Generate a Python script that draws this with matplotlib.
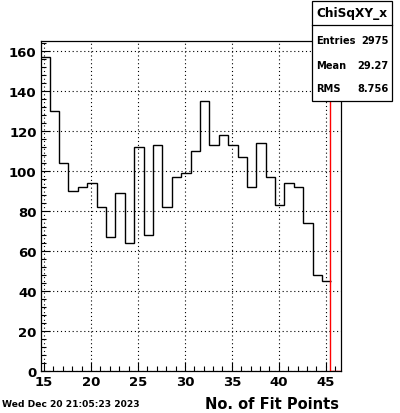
import numpy as np
import matplotlib
matplotlib.use("Agg")
import matplotlib.pyplot as plt
from matplotlib.ticker import MultipleLocator

# histogram contents, one bin per number of fit points
fit_points = np.arange(15, 46)
counts = [157, 130, 104, 90, 92, 94, 82, 67, 89, 64,
          112, 68, 113, 82, 97, 99, 110, 135, 113, 118,
          113, 107, 92, 114, 97, 83, 94, 92, 74, 48, 45]
bin_offset = -0.4
x_range = (14.65, 46.6)
cut_x = 45.5

hist_name = "ChiSqXY_x"
stats_labels = ["Entries", "Mean", "RMS"]
stats_values = ["2975", "29.27", "8.756"]
x_title = "No. of Fit Points"
date_text = "Wed Dec 20 21:05:23 2023"

fig = plt.figure(figsize=(4.0, 4.14), dpi=100)
ax = fig.add_axes([0.102, 0.1014, 0.75, 0.797])

edges = np.append(fit_points + bin_offset, fit_points[-1] + 1 + bin_offset)
ax.stairs(counts, edges, color="black", lw=1.0, baseline=None)
ax.plot([edges[0], edges[0]], [0, counts[0]], color="black", lw=1.0)

# red cut marker: vertical line and bottom edge up to the frame
ax.plot([cut_x, cut_x, x_range[1]], [200, 0, 0], color="red", lw=1.0,
        clip_on=True, zorder=5)

ax.set_xlim(*x_range)
ax.set_ylim(0, max(counts) * 1.05)

ax.xaxis.set_major_locator(MultipleLocator(5))
ax.xaxis.set_minor_locator(MultipleLocator(1))
ax.yaxis.set_major_locator(MultipleLocator(20))
ax.yaxis.set_minor_locator(MultipleLocator(4))
ax.tick_params(which="both", direction="in", top=False, right=False, width=0.8)
ax.tick_params(which="major", length=6.5, labelsize=9.5, pad=3)
ax.tick_params(which="minor", length=3.3)
for lab in ax.get_xticklabels() + ax.get_yticklabels():
    lab.set_fontweight("bold")

ax.grid(True, which="major", color="black", linestyle=(0, (1, 2.5)), lw=0.8)
for sp in ax.spines.values():
    sp.set_linewidth(0.9)

fig.text(0.848, 0.024, x_title, ha="right", va="center",
         fontsize=10.5, fontweight="bold")
fig.text(0.006, 0.022, date_text, ha="left", va="center",
         fontsize=6.6, fontweight="bold")

# stats box
bx0, bx1 = 312.3 / 400, 391.7 / 400
by1, by0 = 1 - 1.7 / 414, 1 - 101.7 / 414
sep = 1 - 26 / 414
box = plt.Rectangle((bx0, by0), bx1 - bx0, by1 - by0, transform=fig.transFigure,
                    facecolor="white", edgecolor="black", lw=0.9, zorder=10)
fig.add_artist(box)
fig.add_artist(plt.Line2D([bx0, bx1], [sep, sep], transform=fig.transFigure,
                          color="black", lw=0.9, zorder=11))
fig.text((bx0 + bx1) / 2, (sep + by1) / 2, hist_name, ha="center", va="center",
         fontsize=8.7, fontweight="bold", zorder=12)
rows_y = [40.7, 65.7, 89.3]
for lab, val, yy in zip(stats_labels, stats_values, rows_y):
    fig.text(316 / 400, 1 - yy / 414, lab, ha="left", va="center",
             fontsize=7.1, fontweight="bold", zorder=12)
    fig.text(388.3 / 400, 1 - yy / 414, val, ha="right", va="center",
             fontsize=7.1, fontweight="bold", zorder=12)

fig.savefig("out.png", dpi=100)
